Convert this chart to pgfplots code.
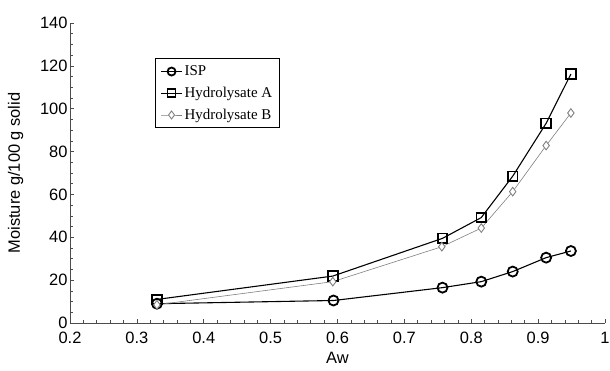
\documentclass[border=0pt]{standalone}
\usepackage{pgfplots}
\pgfplotsset{compat=1.18}
\usepackage{fontspec}
\setmainfont{Liberation Sans}
\newfontfamily\serif{Liberation Serif}
\begin{document}
\begin{tikzpicture}[x=1bp,y=1bp]
\path[use as bounding box] (-70bp,-48bp) rectangle (540bp,323bp);
\begin{axis}[
  at={(0,0)}, anchor=south west,
  scale only axis,
  width=535bp, height=300bp,
  xmin=0.2, xmax=1, ymin=0, ymax=140,
  xtick={0.2,0.3,...,1.0},
  xticklabels={0.2,0.3,0.4,0.5,0.6,0.7,0.8,0.9,1},
  ytick={0,20,...,140},
  minor x tick num=4, minor y tick num=3,
  axis x line*=bottom, axis y line*=left,
  axis line style={gray!60!black, line width=0.9pt, -},
  tick style={gray!60!black, line width=0.7pt},
  tick align=inside,
  major tick length=4bp, minor tick length=3bp,
  tick label style={font=\fontsize{16.5}{18}\selectfont},
  yticklabel style={xshift=1bp},
  xticklabel style={yshift=-6bp},
  /pgf/number format/assume math mode=true,
  xlabel={Aw}, ylabel={Moisture g/100 g solid},
  label style={font=\fontsize{16.5}{18}\selectfont},
  xlabel style={yshift=-1bp},
  ylabel style={yshift=10bp},
  legend style={at={(0.159,0.882)}, anchor=north west, draw=black, line width=0.9pt,
     font=\serif\fontsize{15}{17}\selectfont, row sep=6bp, inner xsep=5bp, inner ysep=5bp},
  legend cell align=left,
  legend image code/.code={\draw[mark repeat=2,mark phase=2,#1,mark size=4bp] plot coordinates {(0bp,0bp) (10.5bp,0bp) (21bp,0bp)};},
]
\addplot[black, line width=1.1pt, mark=o, mark size=5bp, mark options={line width=1.8pt, fill=white}]
 coordinates {(0.33,9) (0.594,10.5) (0.757,16.5) (0.815,19.3) (0.862,24) (0.912,30.5) (0.949,33.6)};
\addlegendentry{ISP}
\addplot[black, line width=1.1pt, mark=square, mark size=4.8bp, mark options={line width=1.8pt, fill=white}]
 coordinates {(0.33,11) (0.593,21.9) (0.757,39.5) (0.815,49.2) (0.862,68.5) (0.912,93.2) (0.949,116.2)};
\addlegendentry{Hydrolysate A}
\addplot[gray, line width=0.6pt, mark=diamond*, mark size=4.3bp, mark options={line width=0.9pt, fill=white, draw=gray}]
 coordinates {(0.33,8.5) (0.593,19.3) (0.756,35.6) (0.815,44.3) (0.862,61.3) (0.912,82.8) (0.949,98)};
\addlegendentry{Hydrolysate B}
\end{axis}
\end{tikzpicture}
\end{document}
